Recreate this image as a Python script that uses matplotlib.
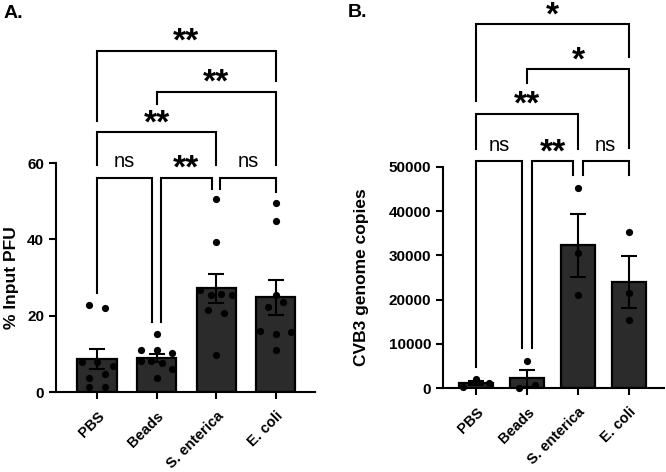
import matplotlib
matplotlib.use('Agg')
import matplotlib.pyplot as plt
import numpy as np

plt.rcParams['font.family'] = 'Liberation Sans'
plt.rcParams['font.weight'] = 'bold'
plt.rcParams['axes.linewidth'] = 1.5

groups = ['PBS', 'Beads', 'S. enterica', 'E. coli']

# panel A: % input PFU, one value per replicate
pfu_pbs = [22.7, 22.0, 7.8, 7.8, 3.7, 4.7, 1.3, 1.3, 6.8]
pfu_beads = [15.1, 11.0, 11.0, 10.3, 8.2, 8.0, 7.5, 6.0, 3.7]
pfu_sent = [50.5, 39.2, 26.7, 25.4, 25.6, 25.3, 21.4, 20.6, 9.7]
pfu_ecoli = [49.4, 44.7, 25.4, 22.2, 23.5, 16.0, 15.2, 15.6, 11.0]

# panel B: CVB3 genome copies
cvb_pbs = [200, 2000, 1100]
cvb_beads = [6100, 100, 580]
cvb_sent = [45300, 30500, 21000]
cvb_ecoli = [35300, 21400, 15400]

# comparisons: (group i, group j, label, bracket top, left leg end, right leg end)
comp_a = [(0, 1, 'ns', 56.2, 25.9, 18.3),
          (1, 2, '**', 56.2, 18.3, 53.3),
          (2, 3, 'ns', 56.2, 53.3, 52.3),
          (0, 2, '**', 68.0, 59.6, 59.6),
          (1, 3, '**', 78.7, 75.5, 59.6),
          (0, 3, '**', 89.4, 71.0, 81.6)]
comp_b = [(0, 1, 'ns', 51300, 4700, 9000),
          (1, 2, '**', 51300, 9000, 48100),
          (2, 3, 'ns', 51300, 48100, 48100),
          (0, 2, '**', 62100, 54000, 54000),
          (1, 3, '*', 72100, 69000, 54200),
          (0, 3, '*', 82300, 65000, 74900)]

W, H = 666, 472


def swarm_offsets(vals, px_per_unit, bar_px, dx_px):
    # group points whose markers would overlap into rows, spread rows evenly
    vals = np.asarray(vals, dtype=float)
    order = np.argsort(vals)
    offs = np.zeros(len(vals))
    rows = [[order[0]]]
    for k in order[1:]:
        if (vals[k] - vals[rows[-1][-1]]) * px_per_unit < 7:
            rows[-1].append(k)
        else:
            rows.append([k])
    for row in rows:
        n = len(row)
        if n == 1:
            continue
        step = min(15.5, bar_px * 0.8 / (n - 1))
        for m, k in enumerate(sorted(row)):
            offs[k] = (m - (n - 1) / 2) * step / dx_px
    return offs


def panel(rect_px, data, ylim, yticks, xlim, ylabel, labelpad, comps, inset, letter, letter_xy):
    left, bottom, width, height = rect_px
    ax = fig.add_axes([left / W, bottom / H, width / W, height / H])
    x = np.arange(len(data))
    means = [np.mean(d) for d in data]
    sems = [np.std(d, ddof=1) / np.sqrt(len(d)) for d in data]
    ax.bar(x, means, width=0.66, color='#2b2b2b', edgecolor='black', linewidth=1.6, zorder=2)
    px_per_unit = height / (ylim[1] - ylim[0])
    dx_px = width / (xlim[1] - xlim[0])
    for i, d in enumerate(data):
        offs = swarm_offsets(d, px_per_unit, 0.66 * dx_px, dx_px)
        ax.scatter(i + offs, d, s=27, color='black', zorder=3, clip_on=False, linewidths=0)
    ax.errorbar(x, means, yerr=sems, fmt='none', ecolor='black', elinewidth=1.5,
                capsize=5.5, capthick=1.5, zorder=4)
    ax.set_xlim(*xlim)
    ax.set_ylim(*ylim)
    ax.set_yticks(yticks)
    ax.set_xticks(x)
    ax.set_xticklabels(groups, rotation=45, ha='right', rotation_mode='anchor', fontsize=10.5)
    ax.tick_params(axis='y', width=1.5, length=5, labelsize=11)
    ax.tick_params(axis='x', width=1.5, length=5, pad=7)
    ax.spines['top'].set_visible(False)
    ax.spines['right'].set_visible(False)
    ax.set_ylabel(ylabel, fontsize=12.5, fontweight='bold', labelpad=labelpad)

    # significance brackets
    for i, j, lab, top, l_end, r_end in comps:
        xl, xr = float(i), float(j)
        if j - i == 1:
            if any(c[1] == i and c[0] == i - 1 for c in comps):
                xl += inset
            if any(c[0] == j and c[1] == j + 1 for c in comps):
                xr -= inset
        ax.plot([xl, xl, xr, xr], [l_end, top, top, r_end], color='black', lw=1.5,
                clip_on=False, solid_joinstyle='miter', zorder=5)
        xc = (xl + xr) / 2
        if lab == 'ns':
            ax.annotate(lab, (xc, top), xytext=(0, 10.5), textcoords='offset pixels',
                        ha='center', va='baseline', fontsize=14.5, fontweight='normal',
                        annotation_clip=False)
        else:
            ax.annotate(lab, (xc, top), xytext=(0, 0), textcoords='offset pixels',
                        ha='center', va='baseline', fontsize=24, fontweight='bold',
                        annotation_clip=False)
    fig.text(letter_xy[0] / W, 1 - letter_xy[1] / H, letter, fontsize=14,
             fontweight='bold', ha='left', va='top')
    return ax


fig = plt.figure(figsize=(W / 100, H / 100), dpi=100)

panel((56, 472 - 392, 259, 229),
      [pfu_pbs, pfu_beads, pfu_sent, pfu_ecoli],
      (0, 60), [0, 20, 40, 60], (-0.69, 3.66),
      '% Input PFU', 6, comp_a, 0.07, 'A.', (4, 5))

panel((443, 472 - 388, 221, 221),
      [cvb_pbs, cvb_beads, cvb_sent, cvb_ecoli],
      (0, 50000), [0, 10000, 20000, 30000, 40000, 50000], (-0.647, 3.686),
      'CVB3 genome copies', 14, comp_b, 0.09, 'B.', (348, 4))

fig.savefig('out.png', dpi=100)
